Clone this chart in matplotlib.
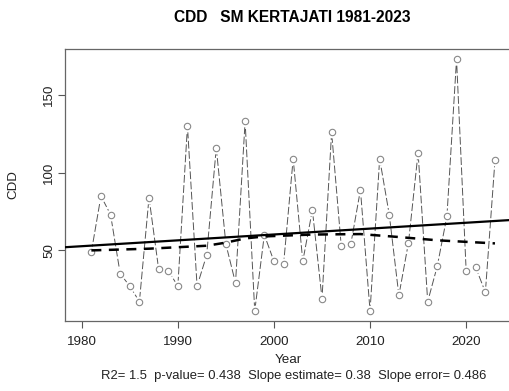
import numpy as np
import matplotlib
matplotlib.use("Agg")
import matplotlib.pyplot as plt

# CDD per year
years = list(range(1981, 2024))
cdd = [49, 85, 73, 35, 27, 17, 84, 38, 37, 27,
       130, 27, 47, 116, 54, 29, 133, 11, 60, 43,
       41, 109, 43, 76, 19, 126, 53, 54, 89, 11,
       109, 73, 21, 55, 113, 17, 40, 72, 173, 37,
       39, 23, 108]

# smoothed curve (dashed)
smooth_years = [1981, 1987, 1993, 1995, 1997, 1999, 2004, 2009, 2013, 2017, 2023]
smooth_vals = [50.0, 51.1, 53.0, 55.0, 57.7, 59.0, 60.2, 60.5, 58.6, 56.5, 54.5]

x_ticks = [1980, 1990, 2000, 2010, 2020]
y_ticks = [50, 100, 150]
title = "CDD   SM KERTAJATI 1981-2023"
stats = "R2= 1.5  p-value= 0.438  Slope estimate= 0.38  Slope error= 0.486"

plt.rcParams['font.family'] = ['Liberation Sans', 'DejaVu Sans']

fig = plt.figure(figsize=(5.1, 3.91), dpi=100)
ax = fig.add_axes([0.1275, 0.18, 0.909, 0.695])

yr = np.array(years)
val = np.array(cdd)

# data line, type="b" style: dashed line with gaps around the circles
ax.plot(yr, val, color='#555555', lw=0.7, linestyle=(0, (8, 2.5)), zorder=2)
ax.plot(yr, val, linestyle='none', marker='o', markersize=8.5,
        markerfacecolor='white', markeredgecolor='none', zorder=3)
ax.plot(yr, val, linestyle='none', marker='o', markersize=4.6,
        markerfacecolor='white', markeredgecolor='#888888', markeredgewidth=0.8, zorder=4)

# linear trend
slope, icpt = np.polyfit(yr, val, 1)
xl = np.array([1978.0, 2027.0])
ax.plot(xl, icpt + slope * xl, color='black', lw=1.6, zorder=5)

# smoothed curve
ax.plot(smooth_years, smooth_vals, color='black', lw=1.8,
        linestyle=(0, (4, 3)), zorder=5)

ax.set_xlim(1978.26, 2026.5)
ax.set_ylim(4.8, 179.7)
ax.set_xticks(x_ticks)
ax.set_yticks(y_ticks)
ax.set_yticklabels([str(v) for v in y_ticks], rotation=90, va='center')
ax.tick_params(axis='both', direction='out', length=5, width=0.8,
               color='#555555', labelsize=9.6, labelcolor='#222222')
ax.tick_params(axis='x', pad=6)
ax.tick_params(axis='y', pad=2)
for sp in ax.spines.values():
    sp.set_color('#666666')
    sp.set_linewidth(0.9)

ax.set_ylabel("CDD", fontsize=9.6, color='#222222', labelpad=17)

fig.text(0.5735, 0.954, title, ha='center', va='center',
         fontsize=11.2, fontweight='bold')
fig.text(0.565, 0.079, "Year", ha='center', va='center', fontsize=9.6, color='#222222')
fig.text(0.575, 0.038, stats, ha='center', va='center', fontsize=9.4, color='#222222')

fig.savefig("out.png", dpi=100)
